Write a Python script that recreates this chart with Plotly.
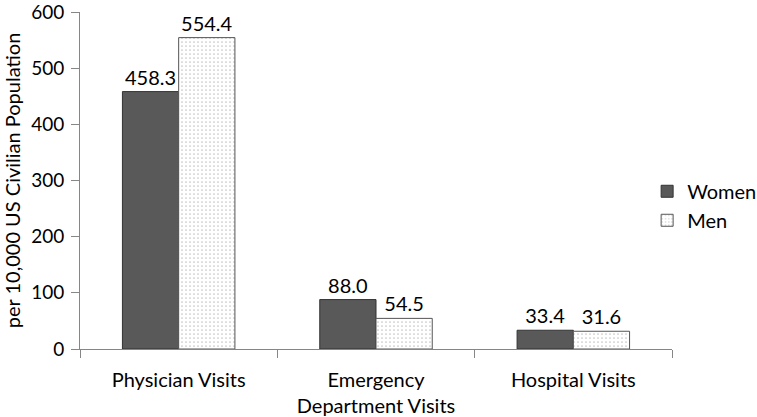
import plotly.graph_objects as go

categories = ["Physician Visits", "Emergency<br>Department Visits", "Hospital Visits"]
women = [458.3, 88.0, 33.4]
men = [554.4, 54.5, 31.6]
y_ticks = [0, 100, 200, 300, 400, 500, 600]

FONT = "Lato, Open Sans, sans-serif"
FS = 20

fig = go.Figure()
fig.add_trace(go.Bar(
    name="Women", x=categories, y=women,
    marker=dict(color="#595959", line=dict(color="#333333", width=1)),
    text=[f"{v:.1f}" for v in women], textposition="outside",
    textfont=dict(color="black", size=FS, family=FONT), cliponaxis=False,
))
fig.add_trace(go.Bar(
    name="Men", x=categories, y=men,
    marker=dict(color="white", line=dict(color="#555555", width=1),
                pattern=dict(shape=".", fgcolor="#8a8a8a", bgcolor="white", size=4, solidity=0.15)),
    text=[f"{v:.1f}" for v in men], textposition="outside",
    textfont=dict(color="black", size=FS, family=FONT), cliponaxis=False,
))

fig.update_layout(
    width=757, height=417,
    margin=dict(l=80, r=85, t=12, b=68, autoexpand=False),
    paper_bgcolor="white", plot_bgcolor="white",
    barmode="group", bargap=0.43, bargroupgap=0,
    font=dict(family=FONT, size=FS, color="black"),
    showlegend=True,
    legend=dict(x=0.958, y=0.425, xanchor="left", yanchor="middle",
                font=dict(size=FS, family=FONT), tracegroupgap=14,
                itemwidth=30, bgcolor="rgba(0,0,0,0)"),
)
fig.update_yaxes(
    range=[0, 600], tickvals=y_ticks, showgrid=False,
    showline=True, linecolor="#868686", linewidth=1,
    ticks="outside", ticklen=8, tickcolor="#868686", ticklabelstandoff=3,
    ticklabeloverflow="allow",
    title=dict(text="per 10,000 US Civilian Population", font=dict(size=FS, family=FONT), standoff=8),
    tickfont=dict(size=19), zeroline=False, automargin=False,
)
fig.update_xaxes(
    showline=True, linecolor="#868686", linewidth=1,
    ticks="outside", ticklen=8, tickcolor="#868686", tickson="boundaries",
    ticklabelstandoff=13,
    tickfont=dict(size=FS), showgrid=False, automargin=False,
)

fig.write_html("out.html", config={"displayModeBar": False},
               post_script="document.body.style.margin='0';")
